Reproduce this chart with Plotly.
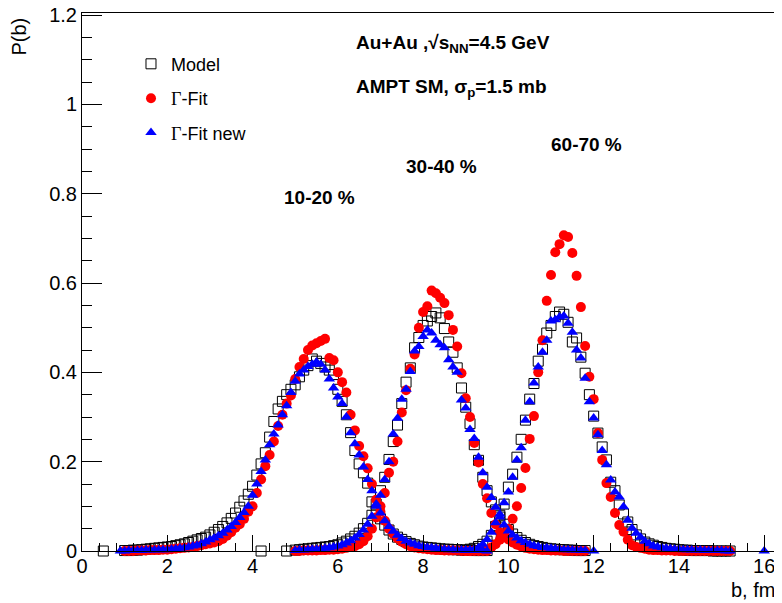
import numpy as np
import plotly.graph_objects as go

# ---------------- data ----------------
# bin centres (fm) for each centrality class
b_1020 = np.round(np.arange(1.0, 9.51, 0.1), 1)
b_3040 = np.round(np.arange(5.0, 11.81, 0.1), 1)
b_6070 = np.round(np.arange(9.0, 15.21, 0.1), 1)

# 10-20 %
model_1020 = [0.001, 0.001, 0.002, 0.002, 0.003, 0.004, 0.005, 0.006, 0.007, 0.008,
              0.009, 0.010, 0.012, 0.014, 0.016, 0.019, 0.022, 0.025, 0.028, 0.031,
              0.036, 0.042, 0.048, 0.055, 0.063, 0.073, 0.085, 0.098, 0.112, 0.127,
              0.145, 0.170, 0.195, 0.220, 0.255, 0.290, 0.318, 0.335, 0.350, 0.362,
              0.372, 0.390, 0.405, 0.415, 0.430, 0.425, 0.420, 0.412, 0.405, 0.395,
              0.362, 0.335, 0.305, 0.265, 0.225, 0.195, 0.175, 0.152, 0.110, 0.090,
              0.072, 0.058, 0.047, 0.038, 0.031, 0.026, 0.021, 0.017, 0.014, 0.011,
              0.009, 0.008, 0.007, 0.006, 0.005, 0.004, 0.004, 0.003, 0.003, 0.002,
              0.002, 0.002, 0.001, 0.001, 0.001, 0.001]
gfit_1020 = [0.000, 0.000, 0.000, 0.001, 0.001, 0.001, 0.002, 0.002, 0.002, 0.003,
             0.003, 0.004, 0.005, 0.006, 0.007, 0.008, 0.009, 0.011, 0.013, 0.015,
             0.017, 0.019, 0.022, 0.027, 0.034, 0.042, 0.052, 0.060, 0.072, 0.088,
             0.100, 0.130, 0.160, 0.190, 0.215, 0.245, 0.280, 0.305, 0.330, 0.348,
             0.385, 0.412, 0.430, 0.450, 0.460, 0.465, 0.470, 0.475, 0.432, 0.427,
             0.400, 0.378, 0.355, 0.305, 0.270, 0.235, 0.212, 0.185, 0.150, 0.115,
             0.088, 0.068, 0.050, 0.038, 0.028, 0.021, 0.015, 0.011, 0.008, 0.006,
             0.005, 0.004, 0.003, 0.002, 0.002, 0.001, 0.001, 0.001, 0.001, 0.000,
             0.000, 0.000, 0.000, 0.000, 0.000, 0.000]
gnew_1020 = [0.000, 0.001, 0.001, 0.001, 0.001, 0.002, 0.002, 0.002, 0.003, 0.003,
             0.003, 0.004, 0.005, 0.006, 0.007, 0.009, 0.011, 0.013, 0.016, 0.020,
             0.025, 0.029, 0.034, 0.040, 0.047, 0.055, 0.064, 0.075, 0.086, 0.100,
             0.125, 0.150, 0.178, 0.204, 0.238, 0.262, 0.282, 0.305, 0.325, 0.355,
             0.380, 0.396, 0.405, 0.413, 0.418, 0.423, 0.418, 0.405, 0.385, 0.365,
             0.345, 0.330, 0.300, 0.265, 0.240, 0.215, 0.188, 0.160, 0.135, 0.105,
             0.085, 0.068, 0.055, 0.044, 0.035, 0.028, 0.022, 0.018, 0.015, 0.012,
             0.010, 0.008, 0.007, 0.006, 0.005, 0.004, 0.003, 0.003, 0.002, 0.002,
             0.002, 0.001, 0.001, 0.001, 0.001, 0.000]

# 30-40 %
model_3040 = [0.002, 0.003, 0.004, 0.005, 0.006, 0.007, 0.008, 0.009, 0.010, 0.012,
              0.014, 0.018, 0.022, 0.027, 0.033, 0.040, 0.050, 0.062, 0.080, 0.105,
              0.135, 0.165, 0.205, 0.245, 0.282, 0.330, 0.378, 0.410, 0.455, 0.478,
              0.505, 0.515, 0.525, 0.533, 0.522, 0.498, 0.468, 0.445, 0.410, 0.365,
              0.322, 0.285, 0.238, 0.203, 0.165, 0.135, 0.110, 0.092, 0.076, 0.060,
              0.048, 0.038, 0.030, 0.024, 0.019, 0.015, 0.012, 0.010, 0.008, 0.006,
              0.005, 0.004, 0.003, 0.003, 0.002, 0.002, 0.001, 0.001, 0.001]
gfit_3040 = [0.000, 0.000, 0.001, 0.001, 0.001, 0.001, 0.002, 0.002, 0.003, 0.003,
             0.004, 0.005, 0.007, 0.009, 0.011, 0.015, 0.022, 0.033, 0.050, 0.075,
             0.100, 0.130, 0.175, 0.200, 0.245, 0.310, 0.360, 0.408, 0.440, 0.500,
             0.535, 0.548, 0.583, 0.577, 0.567, 0.555, 0.528, 0.495, 0.458, 0.398,
             0.342, 0.300, 0.242, 0.198, 0.150, 0.118, 0.085, 0.060, 0.042, 0.034,
             0.026, 0.019, 0.014, 0.010, 0.007, 0.005, 0.004, 0.003, 0.002, 0.002,
             0.001, 0.001, 0.001, 0.000, 0.000, 0.000, 0.000, 0.000, 0.000]
gnew_3040 = [0.001, 0.002, 0.002, 0.003, 0.004, 0.004, 0.005, 0.006, 0.007, 0.009,
             0.011, 0.014, 0.018, 0.023, 0.029, 0.037, 0.047, 0.060, 0.078, 0.100,
             0.125, 0.160, 0.200, 0.262, 0.297, 0.340, 0.362, 0.402, 0.448, 0.458,
             0.480, 0.495, 0.488, 0.472, 0.462, 0.455, 0.428, 0.412, 0.400, 0.338,
             0.320, 0.272, 0.252, 0.210, 0.175, 0.143, 0.120, 0.098, 0.076, 0.058,
             0.045, 0.036, 0.029, 0.023, 0.019, 0.015, 0.012, 0.010, 0.008, 0.007,
             0.006, 0.005, 0.004, 0.003, 0.003, 0.002, 0.002, 0.001, 0.001]

# 60-70 %
model_6070 = [0.002, 0.004, 0.006, 0.010, 0.015, 0.022, 0.035, 0.055, 0.080, 0.105,
              0.143, 0.172, 0.210, 0.250, 0.293, 0.340, 0.375, 0.425, 0.452, 0.488,
              0.505, 0.525, 0.535, 0.530, 0.512, 0.468, 0.477, 0.434, 0.398, 0.350,
              0.302, 0.264, 0.233, 0.204, 0.154, 0.135, 0.103, 0.083, 0.065, 0.048,
              0.036, 0.027, 0.020, 0.016, 0.013, 0.010, 0.008, 0.006, 0.005, 0.004,
              0.003, 0.002, 0.002, 0.001, 0.001, 0.001, 0.001, 0.001, 0.000, 0.000,
              0.000, 0.000, 0.000]
gfit_6070 = [0.000, 0.000, 0.001, 0.001, 0.002, 0.003, 0.008, 0.015, 0.025, 0.036,
             0.050, 0.072, 0.100, 0.141, 0.186, 0.251, 0.302, 0.400, 0.472, 0.560,
             0.618, 0.669, 0.687, 0.707, 0.703, 0.667, 0.616, 0.546, 0.459, 0.390,
             0.340, 0.264, 0.204, 0.152, 0.121, 0.085, 0.058, 0.043, 0.025, 0.013,
             0.009, 0.007, 0.005, 0.003, 0.002, 0.002, 0.001, 0.001, 0.001, 0.000,
             0.000, 0.000, 0.000, 0.000, 0.000, 0.000, 0.000, 0.000, 0.000, 0.000,
             0.000, 0.000, 0.000]
gnew_6070 = [0.001, 0.002, 0.004, 0.007, 0.015, 0.026, 0.042, 0.063, 0.082, 0.108,
             0.132, 0.165, 0.204, 0.231, 0.293, 0.334, 0.376, 0.412, 0.445, 0.472,
             0.515, 0.518, 0.524, 0.526, 0.510, 0.490, 0.450, 0.432, 0.387, 0.334,
             0.298, 0.260, 0.225, 0.193, 0.159, 0.132, 0.121, 0.099, 0.069, 0.051,
             0.040, 0.031, 0.022, 0.016, 0.011, 0.009, 0.007, 0.006, 0.005, 0.004,
             0.004, 0.003, 0.003, 0.002, 0.002, 0.002, 0.001, 0.001, 0.001, 0.001,
             0.001, 0.000, 0.000]

# isolated empty bins drawn on the axis
model_zero_b = [0.5, 4.2, 4.8]
gnew_zero_b = [0.9, 12.0, 16.0]

x_ticks = [0, 2, 4, 6, 8, 10, 12, 14, 16]
y_ticks = [0, 0.2, 0.4, 0.6, 0.8, 1.0, 1.2]

# ---------------- figure ----------------
FONT = "Liberation Sans, Arial, Helvetica, sans-serif"

def cat(*arrs):
    out = []
    for a in arrs:
        out.extend(list(a))
    return out

model_x = cat(b_1020, b_3040, b_6070, model_zero_b)
model_y = cat(model_1020, model_3040, model_6070, [0.0] * len(model_zero_b))
gfit_x = cat(b_1020, b_3040, b_6070)
gfit_y = cat(gfit_1020, gfit_3040, gfit_6070)
gnew_x = cat(b_1020, b_3040, b_6070, gnew_zero_b)
gnew_y = cat(gnew_1020, gnew_3040, gnew_6070, [0.0] * len(gnew_zero_b))

fig = go.Figure()
fig.add_trace(go.Scatter(
    x=model_x, y=model_y, mode="markers", name="Model", legendgroup="a",
    marker=dict(symbol="square-open", size=10, color="black",
                line=dict(width=1, color="black")),
    cliponaxis=False))
fig.add_trace(go.Scatter(
    x=gfit_x, y=gfit_y, mode="markers", legendgroup="b",
    name='<span style="font-family:Liberation Serif, Times New Roman, serif">Γ</span>-Fit',
    marker=dict(symbol="circle", size=10, color="#ff0000"),
    cliponaxis=False))
fig.add_trace(go.Scatter(
    x=gnew_x, y=gnew_y, mode="markers", legendgroup="c",
    name='<span style="font-family:Liberation Serif, Times New Roman, serif">Γ</span>-Fit new',
    marker=dict(symbol="triangle-up", size=10, color="#0000ff"),
    cliponaxis=False))

ann_font = dict(family=FONT, size=19, color="black")
annotations = [
    dict(x=6.37, y=1.1345, xref="x", yref="y", xanchor="left", yanchor="middle",
         text="<b>Au+Au ,√s<sub>NN</sub>=4.5 GeV</b>", showarrow=False, font=ann_font),
    dict(x=6.37, y=1.037, xref="x", yref="y", xanchor="left", yanchor="middle",
         text="<b>AMPT SM, σ<sub>p</sub>=1.5 mb</b>", showarrow=False, font=ann_font),
    dict(x=10.96, y=0.911, xref="x", yref="y", xanchor="left", yanchor="middle",
         text="<b>60-70 %</b>", showarrow=False, font=ann_font),
    dict(x=7.56, y=0.86, xref="x", yref="y", xanchor="left", yanchor="middle",
         text="<b>30-40 %</b>", showarrow=False, font=ann_font),
    dict(x=4.70, y=0.792, xref="x", yref="y", xanchor="left", yanchor="middle",
         text="<b>10-20 %</b>", showarrow=False, font=ann_font),
    dict(x=1.0, y=-0.049, xref="paper", yref="paper", xanchor="right", yanchor="top",
         text="b, fm", showarrow=False, font=dict(family=FONT, size=20, color="black")),
    dict(x=-0.09, y=0.996, xref="paper", yref="paper", xanchor="center", yanchor="top",
         text="P(b)", textangle=-90, showarrow=False,
         font=dict(family=FONT, size=20, color="black")),
]

# the page body has an 8 px margin, so the plot area is offset by 8 px
fig.update_layout(
    width=782, height=603,
    margin=dict(l=74, r=13, t=5, b=60, autoexpand=False),
    paper_bgcolor="white", plot_bgcolor="white",
    font=dict(family=FONT, size=20, color="black"),
    showlegend=True,
    legend=dict(x=0.0705, y=0.9394, xanchor="left", yanchor="top",
                bgcolor="rgba(0,0,0,0)", font=dict(family=FONT, size=18),
                tracegroupgap=8),
    annotations=annotations,
    xaxis=dict(range=[0, 16.3], tickvals=x_ticks, ticks="inside", ticklen=16,
               tickwidth=1, tickcolor="black", showline=True, linecolor="black",
               linewidth=1, mirror=True, showgrid=False, zeroline=False,
               automargin=False, ticklabelstandoff=-3, ticklabeloverflow="allow",
               tickfont=dict(family=FONT, size=20),
               minor=dict(dtick=0.4, tick0=0, ticks="inside", ticklen=8,
                          tickcolor="black", showgrid=False)),
    yaxis=dict(range=[0, 1.2045], tickvals=y_ticks, ticks="inside", ticklen=20,
               tickwidth=1, tickcolor="black", showline=True, linecolor="black",
               linewidth=1, mirror=True, showgrid=False, zeroline=False,
               automargin=False, ticklabeloverflow="allow",
               tickfont=dict(family=FONT, size=20),
               minor=dict(dtick=0.05, tick0=0, ticks="inside", ticklen=10,
                          tickcolor="black", showgrid=False)),
)

fig.write_html("out.html")
